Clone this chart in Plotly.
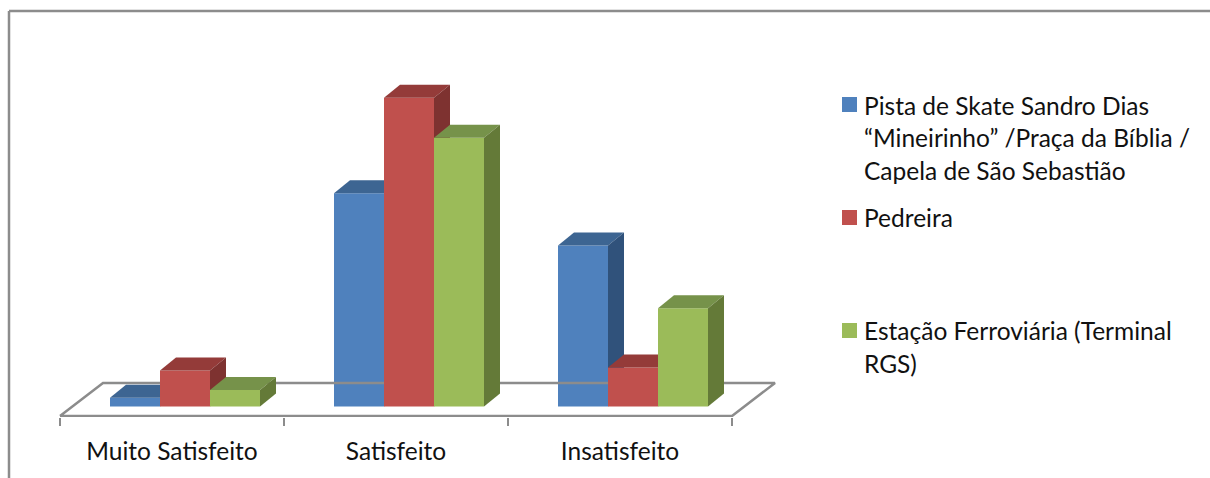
import plotly.graph_objects as go

# Survey answers (percent of respondents per place)
categories = ["Muito Satisfeito", "Satisfeito", "Insatisfeito"]
series_names = [
    "Pista de Skate Sandro Dias “Mineirinho” /Praça da Bíblia / Capela de São Sebastião",
    "Pedreira",
    "Estação Ferroviária (Terminal RGS)",
]
pista_values = [2.3, 55.6, 42.0]
pedreira_values = [9.4, 80.5, 10.2]
estacao_values = [4.3, 70.1, 25.6]
all_values = [pista_values, pedreira_values, estacao_values]

legend_lines = [
    ["Pista de Skate Sandro Dias", "“Mineirinho” /Praça da Bíblia /", "Capela de São Sebastião"],
    ["Pedreira"],
    ["Estação Ferroviária (Terminal", "RGS)"],
]

front_colors = ["#4F81BD", "#C0504D", "#9BBB59"]
top_colors = ["#3D6592", "#943B39", "#76924A"]
side_colors = ["#30527B", "#7E3230", "#647A38"]
frame_color = "#8C8C8C"
text_color = "#111111"
text_font = "Lato"
text_size = 24.5

# Canvas and plot-area geometry
WIDTH, HEIGHT = 1210, 478
PLOT_BOTTOM = 417
AXIS_LEFT = 60
PX_PER_CATEGORY = 224
PX_PER_PERCENT = 3.835
BASELINE = 406.5

BAR_START = 50 / PX_PER_CATEGORY
BAR_WIDTH = 50 / PX_PER_CATEGORY
DEPTH_X = 16 / PX_PER_CATEGORY
DEPTH_Y = 13 / PX_PER_PERCENT
FLOOR_FRONT = -9.5 / PX_PER_PERCENT
FLOOR_BACK_X = 43 / PX_PER_CATEGORY
FLOOR_BACK_Y = 23.5 / PX_PER_PERCENT

x_range = [-AXIS_LEFT / PX_PER_CATEGORY, (WIDTH - AXIS_LEFT) / PX_PER_CATEGORY]
y_range = [-(PLOT_BOTTOM - BASELINE) / PX_PER_PERCENT, BASELINE / PX_PER_PERCENT]


def paper_x(px):
    return px / WIDTH


def paper_y(px):
    return 1 - px / PLOT_BOTTOM


fig = go.Figure()

# Floor of the 3D box, behind every column
n = len(categories)
fig.add_trace(go.Scatter(
    x=[0, FLOOR_BACK_X, n + FLOOR_BACK_X, n, 0],
    y=[FLOOR_FRONT, FLOOR_BACK_Y, FLOOR_BACK_Y, FLOOR_FRONT, FLOOR_FRONT],
    mode="lines",
    line=dict(color=frame_color, width=2.5),
    hoverinfo="skip",
    showlegend=False,
    xaxis="x",
    yaxis="y",
))

# One overlaid subplot per series, so each series paints over the previous one
for s, (name, values) in enumerate(zip(series_names, all_values)):
    suffix = "" if s == 0 else str(s + 1)
    xa, ya = "x" + suffix, "y" + suffix
    lefts = [i + BAR_START + s * BAR_WIDTH for i in range(n)]

    fig.add_trace(go.Bar(
        x=[l + BAR_WIDTH / 2 for l in lefts],
        y=values,
        width=BAR_WIDTH,
        name=name,
        marker=dict(color=front_colors[s], line=dict(width=0)),
        showlegend=False,
        xaxis=xa,
        yaxis=ya,
    ))
    for l, v in zip(lefts, values):
        r = l + BAR_WIDTH
        fig.add_trace(go.Scatter(
            x=[l, r, r + DEPTH_X, l + DEPTH_X, l],
            y=[v, v, v + DEPTH_Y, v + DEPTH_Y, v],
            mode="lines",
            fill="toself",
            fillcolor=top_colors[s],
            line=dict(width=0),
            hoverinfo="skip",
            showlegend=False,
            xaxis=xa,
            yaxis=ya,
        ))
        fig.add_trace(go.Scatter(
            x=[r, r + DEPTH_X, r + DEPTH_X, r, r],
            y=[0, DEPTH_Y, v + DEPTH_Y, v, 0],
            mode="lines",
            fill="toself",
            fillcolor=side_colors[s],
            line=dict(width=0),
            hoverinfo="skip",
            showlegend=False,
            xaxis=xa,
            yaxis=ya,
        ))

# Legend swatches and text lines
LEGEND_SWATCH_X = (842, 857)
LEGEND_TEXT_X = 862
swatch_tops = [97, 210, 323]
line_centers = [[105, 137.5, 170], [217], [330, 363]]
annotations = []
shapes = [
    dict(type="line", xref="paper", yref="paper",
         x0=paper_x(9), x1=1, y0=paper_y(11), y1=paper_y(11),
         line=dict(color=frame_color, width=2.5), layer="below"),
    dict(type="line", xref="paper", yref="paper",
         x0=paper_x(9), x1=paper_x(9), y0=paper_y(11), y1=paper_y(HEIGHT),
         line=dict(color=frame_color, width=2.5), layer="below"),
]
for s, lines in enumerate(legend_lines):
    shapes.append(dict(
        type="rect", xref="paper", yref="paper",
        x0=paper_x(LEGEND_SWATCH_X[0]), x1=paper_x(LEGEND_SWATCH_X[1]),
        y0=paper_y(swatch_tops[s]), y1=paper_y(swatch_tops[s] + 15),
        fillcolor=front_colors[s], line=dict(width=0),
    ))
    for text, center in zip(lines, line_centers[s]):
        annotations.append(dict(
            text=text, xref="paper", yref="paper",
            x=paper_x(LEGEND_TEXT_X), y=paper_y(center),
            xanchor="left", yanchor="middle", showarrow=False,
            font=dict(family=text_font, size=text_size, color=text_color),
        ))

hidden_x = dict(range=x_range, visible=False, overlaying="x")
hidden_y = dict(range=y_range, visible=False, overlaying="y")

fig.update_layout(
    width=WIDTH,
    height=HEIGHT,
    autosize=False,
    margin=dict(l=0, r=0, t=0, b=HEIGHT - PLOT_BOTTOM, pad=0),
    paper_bgcolor="white",
    plot_bgcolor="rgba(0,0,0,0)",
    barmode="overlay",
    showlegend=False,
    font=dict(family=text_font, size=text_size, color=text_color),
    xaxis=dict(
        range=x_range,
        showgrid=False,
        zeroline=False,
        showline=False,
        tickmode="array",
        tickvals=[i + 0.5 for i in range(n)],
        ticktext=categories,
        ticks="",
        ticklabelstandoff=17,
        minor=dict(
            tickmode="array",
            tickvals=list(range(n + 1)),
            ticks="outside",
            ticklen=8,
            tickwidth=2,
            tickcolor=frame_color,
            showgrid=False,
        ),
    ),
    yaxis=dict(range=y_range, visible=False),
    xaxis2=hidden_x,
    yaxis2=dict(hidden_y, anchor="x2"),
    xaxis3=hidden_x,
    yaxis3=dict(hidden_y, anchor="x3"),
    shapes=shapes,
    annotations=annotations,
)

fig.write_html("out.html")
